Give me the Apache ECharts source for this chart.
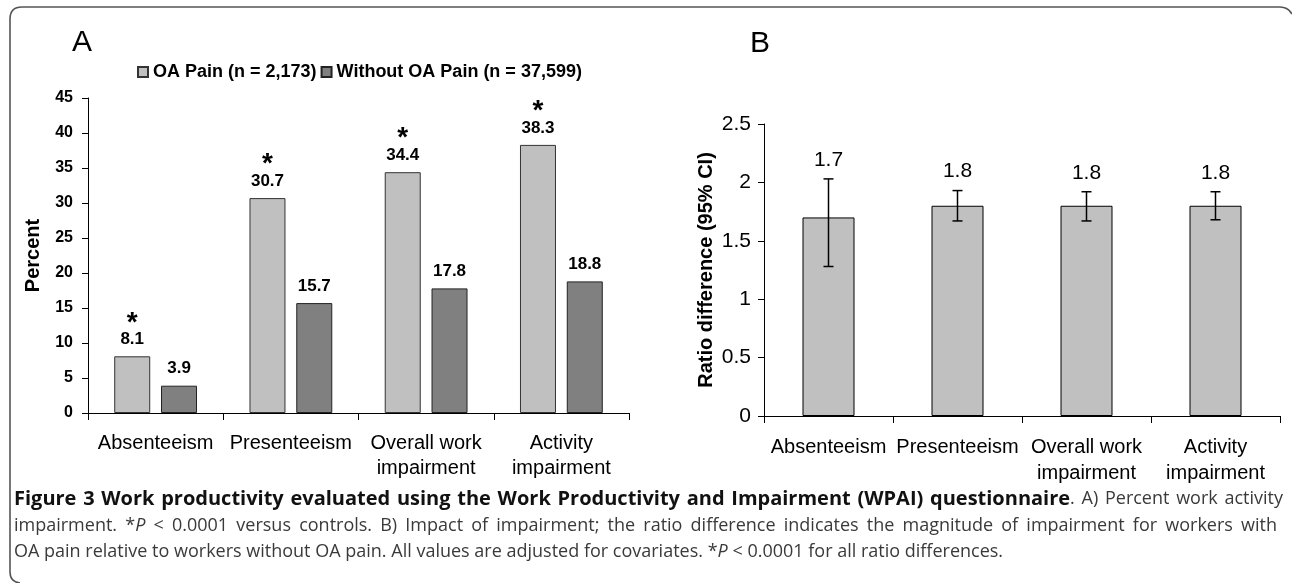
<!DOCTYPE html>
<html><head><meta charset="utf-8">
<script src="https://cdn.jsdelivr.net/npm/echarts@6/dist/echarts.min.js"></script>
<style>html,body{margin:0;padding:0;background:#fff}#c{width:1292px;height:583px}</style>
</head><body><div id="c"></div>
<script>
// ---- data ----
const categories = ['Absenteeism', 'Presenteeism', 'Overall work\nimpairment', 'Activity\nimpairment'];
const seriesNames = ['OA Pain (n = 2,173)', 'Without OA Pain (n = 37,599)'];
const oaPain = [8.1, 30.7, 34.4, 38.3];
const withoutOaPain = [3.9, 15.7, 17.8, 18.8];
const significant = [true, true, true, true];
const ratio = [1.7, 1.8, 1.8, 1.8];
const ciLow = [1.28, 1.67, 1.67, 1.68];
const ciHigh = [2.03, 1.93, 1.92, 1.92];

const SANS = "'Liberation Sans', Arial, sans-serif";
const CAPF = "'Open Sans', 'Noto Sans', sans-serif";

// ---- caption (justified lines built from measured words) ----
const capFonts = {
  b: {font: "bold 20px " + CAPF, fill: '#111'},
  n: {font: "18px " + CAPF, fill: '#3a3a3a'},
  i: {font: "italic 18px " + CAPF, fill: '#3a3a3a'}
};
const captionLines = [
  {justify: true, x1: 1283, y: 499, pieces: [
    ['b', 'Figure 3 Work productivity evaluated using the Work Productivity and Impairment (WPAI) questionnaire'],
    ['n', '. A) Percent work activity']]},
  {justify: true, x1: 1277, y: 526, pieces: [
    ['n', 'impairment. *'], ['i', 'P'],
    ['n', ' < 0.0001 versus controls. B) Impact of impairment; the ratio difference indicates the magnitude of impairment for workers with']]},
  {justify: false, x1: 0, y: 552, pieces: [
    ['n', 'OA pain relative to workers without OA pain. All values are adjusted for covariates. *'], ['i', 'P'],
    ['n', ' < 0.0001 for all ratio differences.']]}
];
const ctx = document.createElement('canvas').getContext('2d');
function measure(key, t) { ctx.font = capFonts[key].font; return ctx.measureText(t).width; }
function captionGraphics(x0) {
  const out = [];
  captionLines.forEach(line => {
    const words = [[]];
    line.pieces.forEach(([k, t]) => {
      const parts = t.split(' ');
      parts.forEach((p, j) => {
        if (j > 0) words.push([]);
        if (p) words[words.length - 1].push([k, p]);
      });
    });
    const ws = words.filter(w => w.length);
    const widths = ws.map(w => w.reduce((s, [k, t]) => s + measure(k, t), 0));
    const total = widths.reduce((a, b) => a + b, 0);
    const gap = line.justify ? (line.x1 - x0 - total) / (ws.length - 1) : measure('n', ' ');
    let x = x0;
    ws.forEach((w, wi) => {
      let xx = x;
      w.forEach(([k, t]) => {
        out.push({type: 'text', x: xx, y: line.y, silent: true,
          style: {text: t, font: capFonts[k].font, fill: capFonts[k].fill, textVerticalAlign: 'middle'}});
        xx += measure(k, t);
      });
      x += widths[wi] + gap;
    });
  });
  return out;
}

const chart = echarts.init(document.getElementById('c'), null, {renderer: 'canvas'});

const errData = categories.map((c, i) => [i, ciLow[i], ciHigh[i], ratio[i]]);
const frameStyle = {fill: null, stroke: '#555', lineWidth: 1.6};

const option = {
  backgroundColor: '#fff',
  animation: false,
  legend: {
    left: 132, top: 58,
    itemWidth: 10, itemHeight: 10, itemGap: 4,
    icon: 'rect',
    data: seriesNames,
    textStyle: {fontFamily: SANS, fontWeight: 'bold', fontSize: 18, color: '#000'}
  },
  grid: [
    {left: 88, top: 98, width: 541, height: 315, containLabel: false},
    {left: 764, top: 124, width: 516, height: 292, containLabel: false}
  ],
  xAxis: [
    {
      type: 'category', gridIndex: 0, data: categories,
      axisLine: {lineStyle: {color: '#000', width: 1}},
      axisTick: {show: true, length: 7, lineStyle: {color: '#000'}},
      axisLabel: {interval: 0, color: '#000', fontFamily: SANS, fontSize: 20, margin: 18, lineHeight: 25}
    },
    {
      type: 'category', gridIndex: 1, data: categories,
      axisLine: {lineStyle: {color: '#000', width: 1}},
      axisTick: {show: true, length: 7, lineStyle: {color: '#000'}},
      axisLabel: {interval: 0, color: '#000', fontFamily: SANS, fontSize: 20, margin: 18, lineHeight: 26}
    }
  ],
  yAxis: [
    {
      type: 'value', gridIndex: 0, min: 0, max: 45, interval: 5,
      name: 'Percent', nameLocation: 'middle', nameGap: 45, nameRotate: 90,
      nameTextStyle: {fontFamily: SANS, fontWeight: 'bold', fontSize: 20, color: '#000'},
      axisLine: {show: true, lineStyle: {color: '#000', width: 1}},
      axisTick: {show: true, length: 6, lineStyle: {color: '#000'}},
      splitLine: {show: false},
      axisLabel: {color: '#000', fontFamily: SANS, fontWeight: 'bold', fontSize: 16, margin: 15}
    },
    {
      type: 'value', gridIndex: 1, min: 0, max: 2.5, interval: 0.5,
      name: 'Ratio difference (95% CI)', nameLocation: 'middle', nameGap: 48, nameRotate: 90,
      nameTextStyle: {fontFamily: SANS, fontWeight: 'bold', fontSize: 20, color: '#000'},
      axisLine: {show: true, lineStyle: {color: '#000', width: 1}},
      axisTick: {show: true, length: 6, lineStyle: {color: '#000'}},
      splitLine: {show: false},
      axisLabel: {color: '#000', fontFamily: SANS, fontSize: 21, margin: 13}
    }
  ],
  series: [
    {
      name: seriesNames[0], type: 'bar', xAxisIndex: 0, yAxisIndex: 0,
      data: oaPain, barWidth: 36, barGap: '30%',
      itemStyle: {color: '#c0c0c0', borderColor: '#333', borderWidth: 1},
      label: {
        show: true, position: 'top', distance: 6,
        formatter: p => (significant[p.dataIndex] ? '{s|*}\n' : '') + '{v|' + p.value + '}',
        rich: {
          s: {fontFamily: SANS, fontWeight: 'bold', fontSize: 28, color: '#000', lineHeight: 14, padding: [10, 0, 7, 0]},
          v: {fontFamily: SANS, fontWeight: 'bold', fontSize: 17, color: '#000', lineHeight: 22}
        }
      }
    },
    {
      name: seriesNames[1], type: 'bar', xAxisIndex: 0, yAxisIndex: 0,
      data: withoutOaPain, barWidth: 36, barGap: '30%',
      itemStyle: {color: '#808080', borderColor: '#222', borderWidth: 1},
      label: {
        show: true, position: 'top', distance: 6,
        formatter: p => '{v|' + p.value + '}',
        rich: {v: {fontFamily: SANS, fontWeight: 'bold', fontSize: 17, color: '#000', lineHeight: 22}}
      }
    },
    {
      name: 'Ratio', type: 'bar', xAxisIndex: 1, yAxisIndex: 1,
      data: ratio, barWidth: 52,
      itemStyle: {color: '#c0c0c0', borderColor: '#000', borderWidth: 1}
    },
    {
      name: 'CI', type: 'custom', xAxisIndex: 1, yAxisIndex: 1, z: 5,
      data: errData,
      encode: {x: 0, y: [1, 2]},
      renderItem: function (params, api) {
        const i = api.value(0);
        const lo = api.coord([i, api.value(1)]);
        const hi = api.coord([i, api.value(2)]);
        const h = 5;
        const st = {stroke: '#000', lineWidth: 1.5};
        return {
          type: 'group', children: [
            {type: 'line', shape: {x1: hi[0], y1: hi[1], x2: lo[0], y2: lo[1]}, style: st},
            {type: 'line', shape: {x1: hi[0] - h, y1: hi[1], x2: hi[0] + h, y2: hi[1]}, style: st},
            {type: 'line', shape: {x1: lo[0] - h, y1: lo[1], x2: lo[0] + h, y2: lo[1]}, style: st},
            {type: 'text', x: hi[0], y: hi[1] - 19, style: {text: String(api.value(3)), fill: '#000', font: "21px " + SANS, textAlign: 'center', textVerticalAlign: 'middle'}}
          ]
        };
      }
    }
  ],
  graphic: [
    {type: 'bezierCurve', shape: {x1: 1292, y1: 14, cpx1: 1288, cpy1: 7, x2: 1280, y2: 7}, style: frameStyle},
    {type: 'line', shape: {x1: 1280, y1: 7, x2: 22, y2: 7}, style: frameStyle},
    {type: 'bezierCurve', shape: {x1: 22, y1: 7, cpx1: 10, cpy1: 7, x2: 10, y2: 19}, style: frameStyle},
    {type: 'line', shape: {x1: 10, y1: 19, x2: 10, y2: 572}, style: frameStyle},
    {type: 'bezierCurve', shape: {x1: 10, y1: 572, cpx1: 10, cpy1: 582, x2: 20, y2: 583}, style: frameStyle},
    {type: 'text', left: 72, top: 28, style: {text: 'A', font: "30px " + SANS, fill: '#000'}},
    {type: 'text', left: 750, top: 29, style: {text: 'B', font: "30px " + SANS, fill: '#000'}}
  ].concat(captionGraphics(14))
};
chart.setOption(option);
</script>
</body></html>
